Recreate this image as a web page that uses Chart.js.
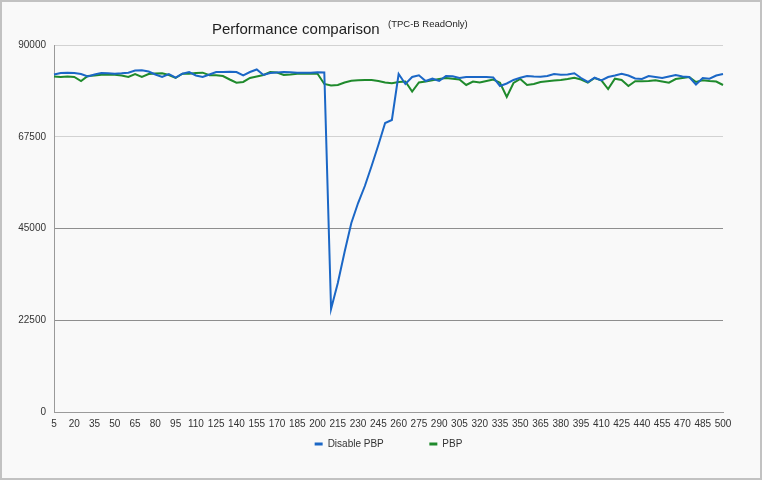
<!DOCTYPE html>
<html>
<head>
<meta charset="utf-8">
<script src="https://cdn.jsdelivr.net/npm/chart.js@4.4.1/dist/chart.umd.min.js"></script>
<style>
  html, body { margin: 0; padding: 0; background: #f9f9f9; }
  #wrap { position: relative; width: 762px; height: 480px; }
  #frame { position: absolute; left: 0; top: 0; width: 762px; height: 480px;
           box-sizing: border-box; border: 2px solid #c2c2c2; pointer-events: none; }
</style>
</head>
<body>
<div id="wrap">
  <canvas id="perfChart" width="762" height="480"></canvas>
  <div id="frame"></div>
</div>
<script>
const threads = [
  5, 10, 15, 20, 25, 30, 35, 40, 45, 50, 55, 60, 65, 70, 75, 80, 85, 90, 95, 100,
  105, 110, 115, 120, 125, 130, 135, 140, 145, 150, 155, 160, 165, 170, 175, 180, 185, 190, 195, 200,
  205, 210, 215, 220, 225, 230, 235, 240, 245, 250, 255, 260, 265, 270, 275, 280, 285, 290, 295, 300,
  305, 310, 315, 320, 325, 330, 335, 340, 345, 350, 355, 360, 365, 370, 375, 380, 385, 390, 395, 400,
  405, 410, 415, 420, 425, 430, 435, 440, 445, 450, 455, 460, 465, 470, 475, 480, 485, 490, 495, 500
];

const disablePbp = [
  82770, 83130, 83210, 83130, 82890, 82280, 82770, 83130, 83060, 82960,
  83060, 83210, 83750, 83800, 83500, 82770, 82150, 82890, 81980, 82960,
  83380, 82520, 82150, 82770, 83380, 83380, 83450, 83380, 82570, 83380,
  83990, 82640, 83130, 83260, 83380, 83310, 83210, 83210, 83210, 83310,
  83260, 25260, 31640, 39240, 46350, 51250, 55420, 60330, 65480, 70870,
  71610, 82890, 80440, 82150, 82570, 81170, 81740, 81170, 82400, 82320,
  81910, 82150, 82150, 82150, 82150, 82030, 79950, 80560, 81420, 81980,
  82400, 82280, 82230, 82400, 82890, 82720, 82770, 83060, 81910, 80930,
  81980, 81340, 82150, 82520, 82960, 82520, 81780, 81660, 82400, 82150,
  81910, 82280, 82640, 82280, 82150, 80310, 81910, 81740, 82520, 82890
];

const pbp = [
  82280, 82150, 82280, 82150, 81170, 82400, 82520, 82720, 82720, 82720,
  82520, 82150, 82890, 82150, 82890, 83010, 83060, 82640, 81910, 82960,
  82960, 83130, 83210, 82570, 82570, 82400, 81540, 80750, 80930, 81910,
  82280, 82640, 83380, 83260, 82640, 82770, 82960, 82960, 82960, 82960,
  80440, 80070, 80190, 80800, 81250, 81340, 81420, 81420, 81170, 80800,
  80610, 80930, 81050, 78600, 80800, 81050, 81340, 81660, 81910, 81740,
  81540, 80190, 81050, 80800, 81170, 81540, 80750, 77250, 80680, 81660,
  80190, 80440, 80930, 81100, 81290, 81420, 81660, 81960, 81540, 80800,
  81910, 81340, 79210, 81740, 81420, 79950, 81100, 81100, 81170, 81340,
  81050, 80750, 81660, 81910, 82150, 80930, 81340, 81170, 81050, 80190
];

const yTicks = [0, 22500, 45000, 67500, 90000];

const FONT = "'Liberation Sans', Arial, sans-serif";

// title with the small raised note next to it
const titlePlugin = {
  id: 'titleText',
  afterDraw(chart) {
    const ctx = chart.ctx;
    ctx.save();
    ctx.fillStyle = '#1e1e1e';
    ctx.textBaseline = 'alphabetic';
    ctx.textAlign = 'left';
    ctx.font = '15px ' + FONT;
    ctx.fillText('Performance comparison', 212, 34);
    ctx.font = '9.5px ' + FONT;
    ctx.fillText('(TPC-B ReadOnly)', 388, 27);
    ctx.restore();
  }
};

new Chart(document.getElementById('perfChart'), {
  type: 'line',
  data: {
    labels: threads,
    datasets: [
      {
        label: 'Disable PBP',
        data: disablePbp,
        borderColor: '#1b67c6',
        backgroundColor: '#1b67c6',
        borderWidth: 2,
        pointRadius: 0,
        tension: 0,
        fill: false
      },
      {
        label: 'PBP',
        data: pbp,
        borderColor: '#1f8a2c',
        backgroundColor: '#1f8a2c',
        borderWidth: 2,
        pointRadius: 0,
        tension: 0,
        fill: false
      }
    ]
  },
  options: {
    responsive: false,
    animation: false,
    layout: { padding: { top: 45, left: 4, right: 39, bottom: 21 } },
    plugins: {
      title: { display: false },
      tooltip: { enabled: false },
      legend: {
        position: 'bottom',
        fullSize: false,
        labels: {
          boxWidth: 8,
          boxHeight: 3,
          padding: 10,
          color: '#333',
          font: { family: FONT, size: 10 },
          // wider gap after the first entry, flat line markers
          generateLabels: (chart) =>
            Chart.defaults.plugins.legend.labels.generateLabels(chart).map((l, i) => ({
              ...l,
              lineWidth: 0,
              text: i === 0 ? l.text + '\u2003\u2003\u2003  ' : l.text
            }))
        }
      }
    },
    scales: {
      x: {
        type: 'category',
        offset: false,
        grid: { display: false, drawTicks: false },
        border: { display: true, color: '#9a9a9a', width: 1 },
        ticks: {
          autoSkip: false,
          maxRotation: 0,
          minRotation: 0,
          padding: 6,
          color: '#333',
          font: { family: FONT, size: 10 },
          callback: (v, i) => (i % 3 === 0 ? String(threads[i]) : '')
        },
        afterFit: (s) => { s.height = 17; }
      },
      y: {
        min: 0,
        max: 90000,
        afterBuildTicks: (s) => { s.ticks = yTicks.map(v => ({ value: v })); },
        grid: {
          drawTicks: false,
          color: (c) => (c.tick && (c.tick.value === 45000 || c.tick.value === 22500) ? '#8e8e8e' : '#d2d2d2'),
          lineWidth: 1
        },
        border: { display: true, color: '#9a9a9a', width: 1 },
        ticks: {
          padding: 8,
          color: '#333',
          font: { family: FONT, size: 10 },
          callback: (v) => String(v)
        },
        afterFit: (s) => { s.width = 50; }
      }
    }
  },
  plugins: [titlePlugin]
});
</script>
</body>
</html>
